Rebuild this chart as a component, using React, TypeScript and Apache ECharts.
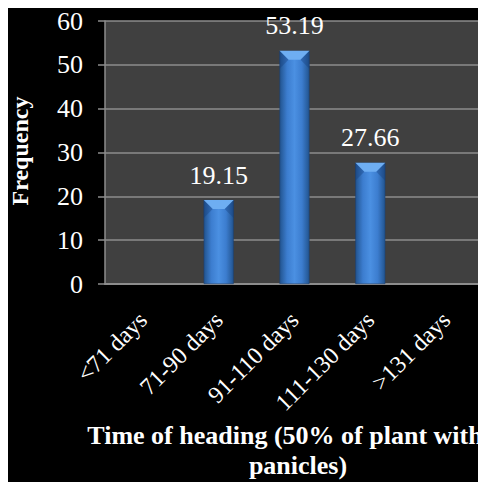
import React, { useEffect, useRef } from "react";
import * as echarts from "echarts";

const categories = ["<71 days", "71-90 days", "91-110 days", "111-130 days", ">131 days"];
const frequency = [0, 19.15, 53.19, 27.66, 0];
const yTicks = { min: 0, max: 60, interval: 10 };

const SERIF = "Times New Roman, Times, serif";

export default function App() {
  const ref = useRef<HTMLDivElement>(null);

  useEffect(() => {
    if (!ref.current) return;
    const chart = echarts.init(ref.current, undefined, { renderer: "svg" });

    const barFill = new echarts.graphic.LinearGradient(0, 0, 1, 0, [
      { offset: 0, color: "#22548f" },
      { offset: 0.25, color: "#3c7dcf" },
      { offset: 0.5, color: "#4b90e2" },
      { offset: 0.75, color: "#3c7dcf" },
      { offset: 1, color: "#22548f" },
    ]);

    chart.setOption({
      animation: false,
      backgroundColor: "#000000",
      textStyle: { fontFamily: SERIF },
      grid: {
        left: 97,
        top: 10,
        right: 2,
        bottom: 198,
        show: true,
        backgroundColor: "#404040",
        borderWidth: 0,
      },
      xAxis: {
        type: "category",
        data: categories,
        axisLine: { show: true, lineStyle: { color: "#8c8c8c", width: 2 } },
        axisTick: { show: false },
        axisLabel: {
          rotate: 45,
          color: "#ffffff",
          fontFamily: SERIF,
          fontSize: 24,
          margin: 32,
          interval: 0,
        },
      },
      yAxis: {
        type: "value",
        min: yTicks.min,
        max: yTicks.max,
        interval: yTicks.interval,
        axisLine: { show: true, lineStyle: { color: "#8c8c8c", width: 1.5 } },
        axisTick: { show: true, length: 7, lineStyle: { color: "#8c8c8c", width: 1.5 } },
        splitLine: { show: true, lineStyle: { color: "#8c8c8c", width: 1.5 } },
        axisLabel: {
          color: "#ffffff",
          fontFamily: SERIF,
          fontSize: 26,
          margin: 22,
        },
      },
      series: [
        {
          type: "bar",
          data: frequency.map((v) => (v > 0 ? v : null)),
          barWidth: 30,
          itemStyle: {
            color: barFill,
            borderColor: "#1a3f73",
            borderWidth: 0.5,
          },
          label: {
            show: true,
            position: "top",
            distance: 12,
            color: "#ffffff",
            fontFamily: SERIF,
            fontSize: 26,
            formatter: (p: any) => Number(p.value).toFixed(2),
          },
          z: 2,
        },
        {
          // bevelled highlight on each bar's top edge
          type: "custom",
          data: frequency.map((v, i) => [i, v]),
          z: 3,
          silent: true,
          renderItem: (params: any, api: any) => {
            const v = api.value(1);
            if (!v) return null;
            const top = api.coord([api.value(0), v]);
            const w = 30;
            const bev = 9;
            const x0 = top[0] - w / 2;
            const x1 = top[0] + w / 2;
            return {
              type: "group",
              children: [
                {
                  type: "polygon",
                  shape: {
                    points: [
                      [x0, top[1]],
                      [x1, top[1]],
                      [x1 - bev, top[1] + bev],
                      [x0 + bev, top[1] + bev],
                    ],
                  },
                  style: { fill: "#6eaef2" },
                },
                {
                  type: "polygon",
                  shape: {
                    points: [
                      [x0, top[1]],
                      [x0 + bev, top[1] + bev],
                      [x0, top[1] + bev * 2],
                    ],
                  },
                  style: { fill: "rgba(20,60,120,0.35)" },
                },
                {
                  type: "polygon",
                  shape: {
                    points: [
                      [x1, top[1]],
                      [x1 - bev, top[1] + bev],
                      [x1, top[1] + bev * 2],
                    ],
                  },
                  style: { fill: "rgba(20,60,120,0.35)" },
                },
              ],
            };
          },
        },
      ],
      graphic: [
        {
          type: "text",
          x: 12,
          y: 143,
          rotation: Math.PI / 2,
          style: {
            text: "Frequency",
            fill: "#ffffff",
            fontFamily: SERIF,
            fontWeight: "bold",
            fontSize: 24,
            textAlign: "center",
            textVerticalAlign: "middle",
          },
        },
        {
          type: "text",
          x: 277,
          y: 427,
          style: {
            text: "Time of heading (50% of plant with",
            fill: "#ffffff",
            fontFamily: SERIF,
            fontWeight: "bold",
            fontSize: 26,
            textAlign: "center",
            textVerticalAlign: "middle",
          },
        },
        {
          type: "text",
          x: 290,
          y: 457,
          style: {
            text: "panicles)",
            fill: "#ffffff",
            fontFamily: SERIF,
            fontWeight: "bold",
            fontSize: 26,
            textAlign: "center",
            textVerticalAlign: "middle",
          },
        },
      ],
    });

    return () => chart.dispose();
  }, []);

  return <div ref={ref} style={{ width: 478, height: 474 }} />;
}
